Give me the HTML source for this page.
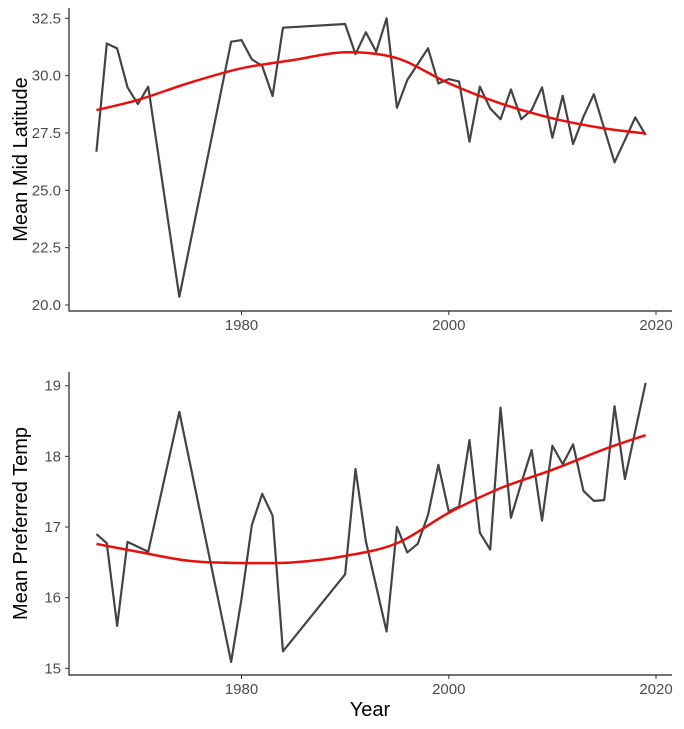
<!DOCTYPE html>
<html><head><meta charset="utf-8"><style>
body{margin:0;background:#fff;}
svg text{font-family:"Liberation Sans",sans-serif;}
</style></head><body>
<svg id="c" width="684" height="724" viewBox="0 0 684 724" xmlns="http://www.w3.org/2000/svg"></svg>
<script>
const latYears=[1966,1967,1968,1969,1970,1971,1974,1979,1980,1981,1982,1983,1984,1990,1991,1992,1993,1994,1995,1996,1998,1999,2000,2001,2002,2003,2004,2005,2006,2007,2008,2009,2010,2011,2012,2013,2014,2015,2016,2017,2018,2019];
const latValues=[26.68,31.4,31.19,29.49,28.76,29.52,20.36,31.48,31.55,30.71,30.42,29.11,32.09,32.25,30.94,31.89,31.04,32.5,28.6,29.81,31.19,29.66,29.85,29.74,27.12,29.52,28.57,28.1,29.4,28.1,28.5,29.49,27.29,29.12,27.02,28.21,29.19,27.7,26.22,27.19,28.18,27.41];
const latSmoothYears=[1966,1970,1975,1980,1985,1990,1995,2000,2005,2010,2015,2019];
const latSmoothValues=[28.5,28.94,29.69,30.32,30.68,31.02,30.76,29.67,28.79,28.14,27.7,27.48];
const latTicks=[20.0,22.5,25.0,27.5,30.0,32.5];
const tempYears=[1966,1967,1968,1969,1971,1974,1979,1980,1981,1982,1983,1984,1990,1991,1992,1994,1995,1996,1997,1998,1999,2000,2001,2002,2003,2004,2005,2006,2007,2008,2009,2010,2011,2012,2013,2014,2015,2016,2017,2018,2019];
const tempValues=[16.9,16.77,15.6,16.79,16.65,18.63,15.09,15.98,17.03,17.47,17.16,15.24,16.33,17.82,16.8,15.52,17.0,16.64,16.76,17.17,17.88,17.22,17.29,18.23,16.92,16.68,18.69,17.13,17.62,18.09,17.09,18.15,17.89,18.17,17.51,17.37,17.38,18.71,17.68,18.36,19.04];
const tempSmoothYears=[1966,1970,1975,1980,1985,1990,1995,2000,2005,2010,2015,2019];
const tempSmoothValues=[16.76,16.65,16.52,16.49,16.5,16.59,16.77,17.2,17.55,17.81,18.1,18.3];
const tempTicks=[15,16,17,18,19];
const xTicks=[1980,2000,2020];

const NS="http://www.w3.org/2000/svg";
const svg=document.getElementById('c');
function el(tag,attrs,parent){const e=document.createElementNS(NS,tag);for(const k in attrs)e.setAttribute(k,attrs[k]);(parent||svg).appendChild(e);return e;}
const xS=y=>241.5+(y-1980)*(656-241.5)/40;
function spline(pts){let d='M'+pts[0][0]+','+pts[0][1];for(let i=0;i<pts.length-1;i++){const p0=pts[Math.max(0,i-1)],p1=pts[i],p2=pts[i+1],p3=pts[Math.min(pts.length-1,i+2)];const c1=[p1[0]+(p2[0]-p0[0])/6,p1[1]+(p2[1]-p0[1])/6],c2=[p2[0]-(p3[0]-p1[0])/6,p2[1]-(p3[1]-p1[1])/6];d+=' C'+c1+' '+c2+' '+p2;}return d;}
function panel(name,yS,ticks,fmt,top,bottom,title,years,vals,sy,sv){
  const g=el('g',{});
  
  
  const ax=el('path',{d:`M69,${top}V${bottom}H672`,stroke:'#222',fill:'none','stroke-width':1.2},g);
  
  
  ticks.forEach(t=>{const y=yS(t);
    el('line',{x1:65,x2:69,y1:y,y2:y,stroke:'#333'},g);
    const tx=el('text',{x:61,y:y+5,'text-anchor':'end','font-size':15,fill:'#4d4d4d'},g);tx.textContent=fmt(t);
    
    });
  xTicks.forEach(t=>{const x=xS(t);
    el('line',{x1:x,x2:x,y1:bottom,y2:bottom+4,stroke:'#333'},g);
    const tx=el('text',{x:x,y:bottom+19,'text-anchor':'middle','font-size':15,fill:'#4d4d4d'},g);tx.textContent=t;
    
    });
  const cy=(top+bottom)/2;
  const tt=el('text',{x:0,y:0,transform:`translate(27,${cy}) rotate(-90)`,'text-anchor':'middle','font-size':20,fill:'#000'},g);tt.textContent=title;
  
  
  const line=el('polyline',{points:years.map((y,i)=>xS(y)+','+yS(vals[i])).join(' '),fill:'none',stroke:'#444','stroke-width':2.2,'stroke-linejoin':'round'},g);
  
  
  const sm=el('path',{d:spline(sy.map((y,i)=>[xS(y),yS(sv[i])])),fill:'none',stroke:'#e8100c','stroke-width':2.5},g);
  
  
}
panel('latitude-panel',v=>305-(v-20)*(305-18.3)/12.5,latTicks,t=>t.toFixed(1),8,311,'Mean Mid Latitude',latYears,latValues,latSmoothYears,latSmoothValues);
panel('temp-panel',v=>668.3-(v-15)*(668.3-385.7)/4,tempTicks,t=>String(t),372,675,'Mean Preferred Temp',tempYears,tempValues,tempSmoothYears,tempSmoothValues);
const xt=el('text',{x:370,y:716,'text-anchor':'middle','font-size':20,fill:'#000'});xt.textContent='Year';


</script>
</body></html>
